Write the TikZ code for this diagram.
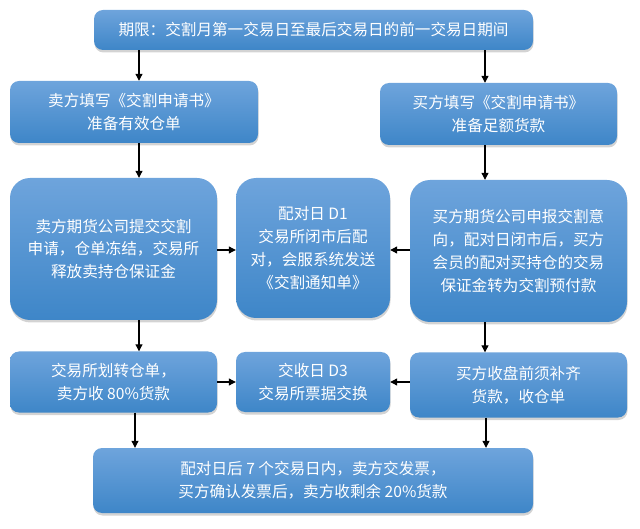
\documentclass[tikz,border=0pt]{standalone}
\usepackage{fontspec}
\setmainfont{Noto Sans CJK SC}
\usetikzlibrary{shadows,arrows.meta}
\definecolor{boxtop}{RGB}{110,164,220}
\definecolor{boxbot}{RGB}{62,134,200}
\tikzset{
  flowbox/.style={rounded corners=9pt, top color=boxtop, bottom color=boxbot, draw=none,
    text=white, align=center, inner sep=0pt,
    font=\fontsize{15.6}{22.8}\selectfont,
    drop shadow={opacity=0.35, shadow xshift=0.5pt, shadow yshift=-2.5pt}},
  bigbox/.style={flowbox, rounded corners=20pt},
  arr/.style={-{Triangle[length=7pt,width=7pt]}, line width=1.1pt, black}
}
\begin{document}
\begin{tikzpicture}[x=1pt,y=-1pt]
\useasboundingbox (0,0) rectangle (640,529);
\coordinate (xL) at (139,0);
\coordinate (xR) at (485,0);
\coordinate (xBL) at (135,0);
\coordinate (xBR) at (486,0);
\node[flowbox, minimum width=439pt, minimum height=40pt] (top) at (313.5,30) {期限：交割月第一交易日至最后交易日的前一交易日期间};
\node[flowbox, minimum width=248pt, minimum height=62pt] (l2) at (134,112) {卖方填写《交割申请书》\\准备有效仓单};
\node[flowbox, minimum width=237pt, minimum height=62pt] (r2) at (498.5,114) {买方填写《交割申请书》\\准备足额货款};
\node[bigbox, minimum width=207pt, minimum height=142pt] (l3) at (113.5,249) {卖方期货公司提交交割\\申请，仓单冻结，交易所\\释放卖持仓保证金};
\node[bigbox, minimum width=154pt, minimum height=140pt] (m3) at (313,248) {配对日 D1\\交易所闭市后配\\对，会服系统发送\\《交割通知单》};
\node[bigbox, minimum width=217pt, minimum height=142pt] (r3) at (518.5,251) {买方期货公司申报交割意\\向，配对日闭市后，买方\\会员的配对买持仓的交易\\保证金转为交割预付款};
\node[flowbox, minimum width=207pt, minimum height=61pt] (l4) at (113.5,382) {交易所划转仓单，\\卖方收 80\%货款};
\node[flowbox, minimum width=154pt, minimum height=60pt] (m4) at (313,382) {交收日 D3\\交易所票据交换};
\node[flowbox, minimum width=217pt, minimum height=65pt] (r4) at (518.5,385) {买方收盘前须补齐\\货款，收仓单};
\node[flowbox, minimum width=440pt, minimum height=65pt] (b5) at (313,480.5) {配对日后 7 个交易日内，卖方交发票，\\买方确认发票后，卖方收剩余 20\%货款};
\draw[arr] (top.south -| xL) -- (l2.north -| xL);
\draw[arr] (top.south -| xR) -- (r2.north -| xR);
\draw[arr] (l2.south -| xL) -- (l3.north -| xL);
\draw[arr] (r2.south -| xR) -- (r3.north -| xR);
\draw[arr] (l3.south -| xL) -- (l4.north -| xL);
\draw[arr] (r3.south -| xR) -- (r4.north -| xR);
\draw[arr] (l4.south -| xBL) -- (b5.north -| xBL);
\draw[arr] (r4.south -| xBR) -- (b5.north -| xBR);
\draw[arr] (l3.east |- 0,250) -- (m3.west |- 0,250);
\draw[arr] (r3.west |- 0,250) -- (m3.east |- 0,250);
\draw[arr] (l4.east |- 0,382) -- (m4.west |- 0,382);
\draw[arr] (r4.west |- 0,382) -- (m4.east |- 0,382);
\end{tikzpicture}
\end{document}
